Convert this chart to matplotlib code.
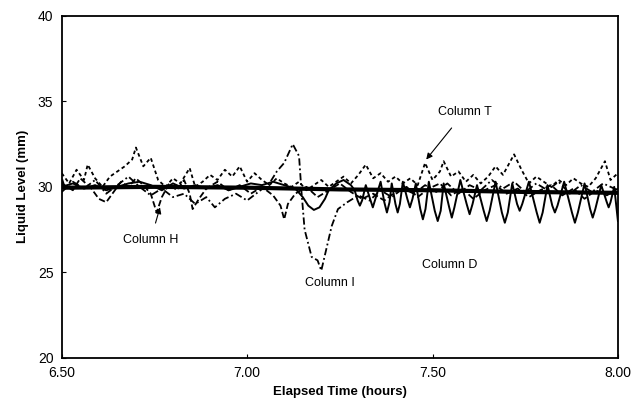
import matplotlib
matplotlib.use("Agg")
import matplotlib.pyplot as plt

plt.rcParams['font.family'] = ['Liberation Sans', 'DejaVu Sans']

# thick reference level
ref_t = [6.50, 6.505, 6.75, 7.00, 7.25, 7.50, 7.75, 8.00]
ref_v = [30.3, 29.95, 30.0, 29.95, 29.85, 29.8, 29.7, 29.65]

# Column T (short dashes)
col_t_t = [6.50, 6.52, 6.54, 6.56, 6.57, 6.59, 6.61, 6.63, 6.65, 6.67, 6.69, 6.70,
           6.72, 6.74, 6.76, 6.78, 6.80, 6.82, 6.845, 6.86, 6.88, 6.90, 6.92, 6.94,
           6.96, 6.98, 7.00, 7.02, 7.04, 7.06, 7.08, 7.10, 7.12, 7.14, 7.16, 7.18,
           7.20, 7.22, 7.24, 7.26, 7.28, 7.30, 7.32, 7.34, 7.36, 7.38, 7.40, 7.42,
           7.44, 7.46, 7.48, 7.50, 7.52, 7.53, 7.55, 7.57, 7.59, 7.61, 7.63, 7.65,
           7.67, 7.69, 7.72, 7.74, 7.76, 7.78, 7.80, 7.82, 7.84, 7.86, 7.88, 7.90,
           7.92, 7.94, 7.965, 7.98, 8.00]
col_t_v = [30.8, 30.2, 31.0, 30.4, 31.3, 30.5, 30.0, 30.6, 30.9, 31.2, 31.6, 32.3,
           31.2, 31.7, 30.4, 30.0, 30.5, 30.2, 31.1, 30.0, 30.3, 30.7, 30.4, 31.0,
           30.6, 31.2, 30.3, 30.8, 30.4, 30.1, 30.5, 30.2, 30.0, 30.3, 29.8, 30.1,
           30.4, 30.0, 30.3, 30.6, 30.2, 30.7, 31.3, 30.5, 30.8, 30.3, 30.6, 30.2,
           30.5, 30.1, 31.4, 30.4, 30.9, 31.5, 30.6, 30.9, 30.3, 30.7, 30.2, 30.6,
           31.2, 30.7, 31.9, 31.0, 30.2, 30.6, 30.3, 30.0, 30.4, 30.1, 30.5, 30.2,
           30.0, 30.5, 31.5, 30.4, 30.8]

# Column I (dash-dot)
col_i_t = [6.50, 6.53, 6.56, 6.59, 6.62, 6.65, 6.68, 6.71, 6.74, 6.77, 6.80, 6.83,
           6.86, 6.89, 6.913, 6.94, 6.97, 7.00, 7.03, 7.06, 7.08, 7.10, 7.123, 7.14,
           7.147, 7.155, 7.174, 7.19, 7.20, 7.228, 7.245, 7.27, 7.30, 7.33, 7.36, 7.39,
           7.42, 7.45, 7.48, 7.51, 7.54, 7.57, 7.60, 7.63, 7.66, 7.69, 7.72, 7.75,
           7.78, 7.81, 7.84, 7.87, 7.90, 7.93, 7.96, 8.00]
col_i_v = [29.7, 30.3, 29.9, 30.4, 29.6, 30.1, 30.6, 30.0, 29.5, 29.9, 29.4, 29.6,
           29.0, 29.4, 28.8, 29.3, 29.6, 29.2, 29.7, 30.2, 30.9, 31.4, 32.5, 31.8,
           29.6, 27.5, 25.9, 25.7, 25.1, 27.7, 28.7, 29.1, 29.5, 29.2, 29.8, 29.4,
           29.9, 29.6, 30.1, 29.7, 30.2, 29.6, 30.1, 29.8, 30.4, 29.9, 30.3, 29.7,
           30.2, 29.8, 30.3, 29.6, 30.1, 29.7, 30.2, 29.8]

# Column H (dashed)
col_h_t = [6.50, 6.53, 6.55, 6.58, 6.60, 6.62, 6.64, 6.66, 6.68, 6.70, 6.72, 6.74,
           6.756, 6.77, 6.79, 6.81, 6.83, 6.845, 6.853, 6.87, 6.89, 6.92, 6.95, 6.98,
           7.01, 7.04, 7.07, 7.09, 7.10, 7.11, 7.13, 7.16, 7.19, 7.22, 7.25, 7.28,
           7.31, 7.34, 7.37, 7.40, 7.43, 7.46, 7.49, 7.52, 7.55, 7.58, 7.61, 7.64,
           7.67, 7.70, 7.73, 7.76, 7.79, 7.82, 7.85, 7.88, 7.91, 7.94, 7.97, 8.00]
col_h_v = [30.2, 29.8, 30.5, 29.9, 29.3, 29.1, 29.7, 30.3, 30.0, 30.5, 30.1, 29.6,
           28.5, 29.4, 30.2, 29.8, 30.4, 29.6, 28.7, 29.3, 29.9, 30.3, 29.8, 30.1,
           29.6, 30.0, 29.5, 28.9, 28.1, 29.0, 29.6, 30.0, 29.4, 29.8, 30.2, 29.7,
           29.3, 29.6, 29.2, 29.7, 30.0, 29.4, 29.9, 30.2, 29.5, 29.9, 29.3, 29.8,
           30.1, 29.6, 29.9, 29.4, 29.8, 30.1, 29.5, 29.9, 29.3, 29.8, 29.5, 29.9]

# Column D (thin solid)
col_d_t = [6.50, 6.53, 6.56, 6.59, 6.62, 6.65, 6.68, 6.71, 6.74, 6.77, 6.80, 6.83,
           6.86, 6.89, 6.92, 6.95, 6.98, 7.01, 7.04, 7.07, 7.10, 7.13, 7.15, 7.165,
           7.18, 7.195, 7.21, 7.22, 7.24, 7.26, 7.28,
           7.29, 7.298, 7.304, 7.31, 7.32, 7.33, 7.339, 7.346, 7.36, 7.37, 7.377, 7.384,
           7.39, 7.40, 7.406, 7.412, 7.42, 7.432, 7.439, 7.446, 7.455, 7.467, 7.474, 7.481,
           7.49, 7.506, 7.514, 7.522, 7.53, 7.545, 7.552, 7.559, 7.575, 7.592, 7.60, 7.608,
           7.62, 7.638, 7.646, 7.654, 7.67, 7.687, 7.695, 7.703, 7.715, 7.728, 7.735, 7.742,
           7.76, 7.781, 7.789, 7.797, 7.81, 7.823, 7.83, 7.837, 7.855, 7.876, 7.884, 7.892,
           7.91, 7.925, 7.932, 7.939, 7.955, 7.97, 7.975, 7.98, 7.99, 8.00]
col_d_v = [30.0, 30.2, 29.9, 30.1, 29.8, 30.0, 30.2, 30.3, 30.1, 29.8, 30.2, 29.9,
           30.1, 29.9, 30.1, 29.8, 30.0, 30.2, 30.1, 30.3, 30.1, 29.9, 29.4, 28.9,
           28.65, 28.8, 29.3, 29.8, 30.2, 30.4, 30.1,
           29.8, 29.2, 28.9, 29.2, 30.1, 29.4, 28.8, 29.3, 30.3, 29.1, 28.5, 29.1,
           30.2, 29.0, 28.5, 29.0, 30.3, 29.3, 28.8, 29.3, 30.2, 28.7, 28.1, 28.7,
           30.3, 28.6, 28.0, 28.6, 30.2, 28.8, 28.2, 28.8, 30.4, 29.0, 28.4, 29.0,
           30.1, 28.6, 28.0, 28.6, 30.3, 28.5, 27.9, 28.5, 30.2, 29.0, 28.6, 29.0,
           30.3, 28.5, 27.9, 28.5, 30.1, 28.9, 28.5, 28.9, 30.3, 28.5, 27.9, 28.5,
           30.2, 28.7, 28.2, 28.7, 30.1, 29.1, 28.8, 29.1, 30.0, 28.0]

fig = plt.figure(figsize=(6.43, 4.18), dpi=100)
ax = fig.add_axes([0.096, 0.144, 0.865, 0.818])

ax.plot(col_t_t, col_t_v, color='black', lw=1.3, linestyle=(0, (2, 1.6)))
ax.plot(col_i_t, col_i_v, color='black', lw=1.3, linestyle=(0, (4, 1.6, 1, 1.6)))
ax.plot(col_h_t, col_h_v, color='black', lw=1.3, linestyle=(0, (3.5, 1.6)))
ax.plot(col_d_t, col_d_v, color='black', lw=1.4, linestyle='-')
ax.plot(ref_t, ref_v, color='black', lw=3.0, linestyle='-')

ax.set_xlim(6.5, 8.0)
ax.set_ylim(20, 40)
ax.set_xticks([6.5, 7.0, 7.5, 8.0])
ax.set_xticklabels(['6.50', '7.00', '7.50', '8.00'])
ax.set_yticks([20, 25, 30, 35, 40])
ax.tick_params(direction='in', length=3, labelsize=10, pad=6)
for s in ax.spines.values():
    s.set_linewidth(1.3)

ax.set_xlabel('Elapsed Time (hours)', fontsize=9.5, fontweight='bold', labelpad=4)
ax.set_ylabel('Liquid Level (mm)', fontsize=9.5, fontweight='bold', labelpad=6)

ax.annotate('Column T', xy=(7.483, 31.6), xytext=(7.587, 34.4), fontsize=9,
            ha='center', va='center',
            arrowprops=dict(arrowstyle='-|>', color='black', lw=0.8, shrinkA=7, shrinkB=0))
ax.annotate('Column H', xy=(6.765, 28.8), xytext=(6.74, 26.9), fontsize=9,
            ha='center', va='center',
            arrowprops=dict(arrowstyle='-|>', color='black', lw=0.8, shrinkA=6, shrinkB=0))
ax.text(7.223, 24.4, 'Column I', fontsize=9, ha='center', va='center')
ax.text(7.547, 25.4, 'Column D', fontsize=9, ha='center', va='center')

fig.savefig('out.png', dpi=100)
